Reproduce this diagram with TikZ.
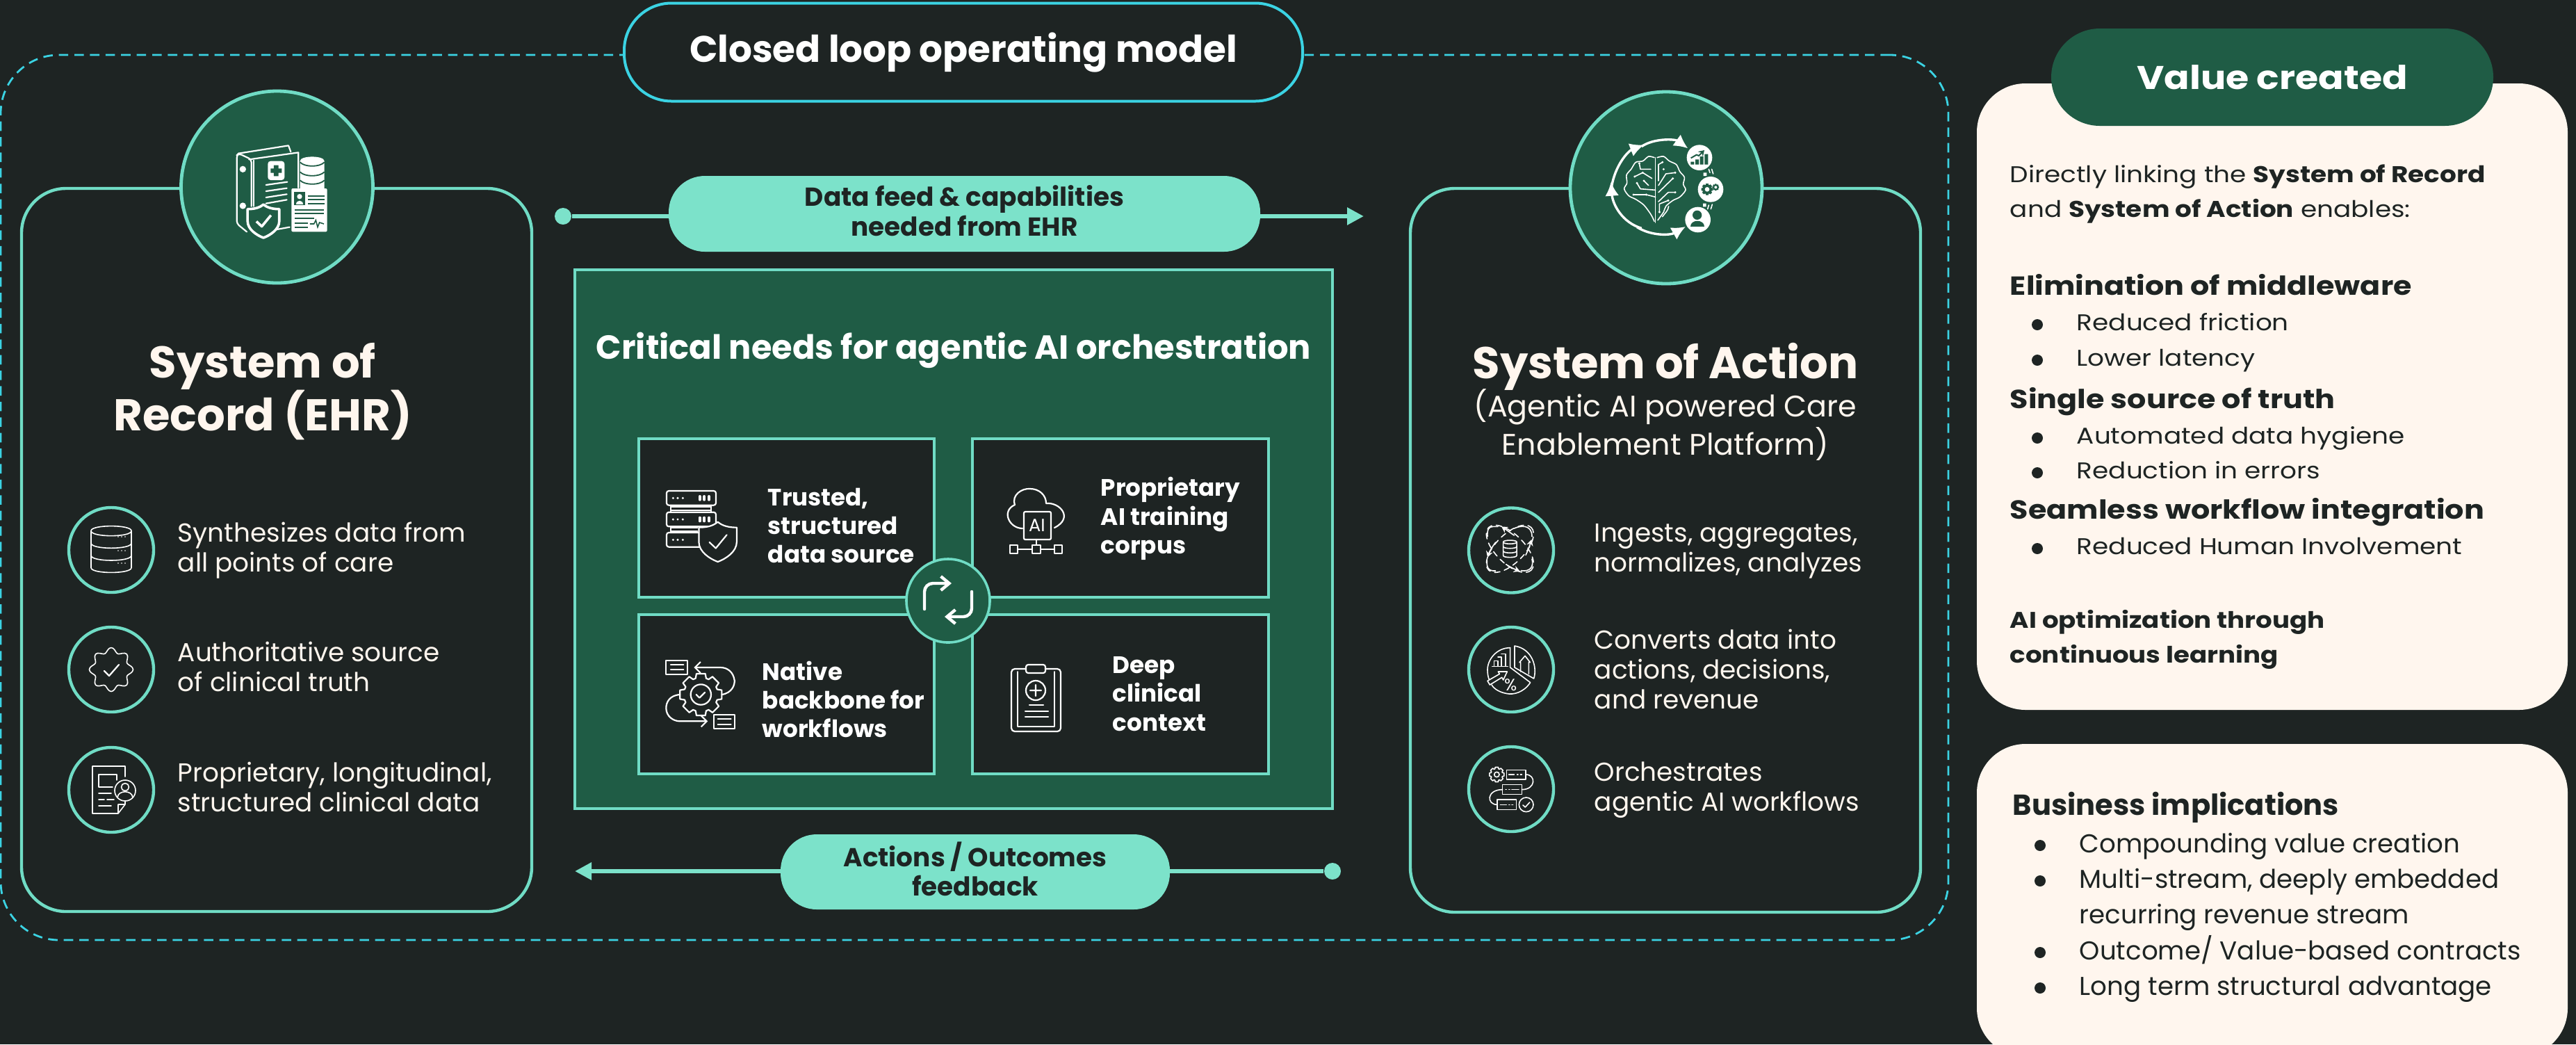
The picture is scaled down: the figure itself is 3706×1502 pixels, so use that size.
\documentclass[tikz,border=0pt]{standalone}
\usepackage{fontspec}
\setmainfont{Poppins}[BoldFont=Poppins Bold]
\newfontfamily\widefont{Poppins}[FakeStretch=1.14,BoldFont=Poppins Bold]
\usetikzlibrary{arrows.meta,positioning}
\definecolor{bgdark}{HTML}{1E2423}
\definecolor{deepgreen}{HTML}{1F5C45}
\definecolor{mint}{HTML}{70DCC5}
\definecolor{pillmint}{HTML}{7CE2CA}
\definecolor{loopcyan}{HTML}{3BD3E3}
\definecolor{cream}{HTML}{FFF6EE}
\tikzset{
	sized/.style 2 args={minimum width=#1*0.25pt, minimum height=#2*0.25pt},
	panel/.style={draw=mint, line width=1.1pt, fill=bgdark, rounded corners=16pt, inner sep=0pt},
	loopframe/.style={draw=loopcyan, line width=.7pt, rounded corners=21pt, inner sep=0pt, dash pattern=on 3.4pt off 2.2pt},
	bigdisc/.style={circle, draw=mint, line width=1.2pt, fill=deepgreen, minimum size=69pt, inner sep=0pt},
	smalldisc/.style={circle, draw=mint, line width=1.1pt, fill=bgdark, minimum size=30.5pt, inner sep=0pt},
	square/.style={draw=mint, line width=.8pt, inner sep=0pt},
	pill/.style={fill=pillmint, rounded corners=13pt, inner sep=0pt},
	pilltext/.style={inner sep=0pt, align=center, text=bgdark, font=\fontsize{9.35}{10.6}\selectfont\bfseries},
	card/.style={fill=cream, rounded corners=17.5pt, inner sep=0pt},
	heading/.style={text=cream, align=center, font=\fontsize{16}{19}\selectfont\bfseries},
	body/.style={text=cream, anchor=west, align=left, inner sep=0pt, font=\fontsize{9.35}{10.75}\selectfont},
	boxtext/.style={text=white, anchor=west, align=left, inner sep=0pt, font=\fontsize{8.55}{10.3}\selectfont\bfseries},
	cardtext/.style={text=bgdark, anchor=base west, inner sep=0pt, font=\widefont\fontsize{8.2}{9}\selectfont},
	cardhead/.style={text=bgdark, anchor=base west, inner sep=0pt, font=\widefont\fontsize{9.4}{10}\selectfont\bfseries},
	plaintext/.style={text=bgdark, anchor=base west, inner sep=0pt, font=\fontsize{9.3}{10}\selectfont},
	bullet/.style={circle, fill=bgdark, minimum size=4pt, inner sep=0pt},
	iconline/.style={draw=white, line width=.55pt, line cap=round, line join=round},
	thinline/.style={draw=white, line width=.4pt, line cap=round, line join=round},
	flowline/.style={draw=pillmint, line width=1.7pt},
	flowdot/.style={circle, fill=pillmint, minimum size=6pt, inner sep=0pt},
	shieldicon/.pic={
		\path[pic actions] (0,-1) .. controls (.25,-.78) and (.6,-.72) .. (.95,-.72) -- (.95,0) .. controls (.95,.5) and (.4,.85) .. (0,1) .. controls (-.4,.85) and (-.95,.5) .. (-.95,0) -- (-.95,-.72) .. controls (-.6,-.72) and (-.25,-.78) .. (0,-1) -- cycle;
		\path[pic actions, fill=none] (-.42,.02) -- (-.1,.32) -- (.45,-.35);
	},
	gearicon/.pic={
		\path[pic actions] (-12:1) \foreach \a in {0,45,...,315}{ -- (\a-12:1) -- (\a+12:1) -- (\a+18:.8) -- (\a+27:.8)} -- cycle;
	},
	dbicon/.pic={
		\path[pic actions] (-1,-.78) .. controls (-1,-1.05) and (1,-1.05) .. (1,-.78) -- (1,.78) .. controls (1,1.05) and (-1,1.05) .. (-1,.78) -- cycle;
		\path[pic actions, fill=none] (-1,-.78) .. controls (-1,-.5) and (1,-.5) .. (1,-.78);
		\path[pic actions, fill=none] (-1,-.26) .. controls (-1,.02) and (1,.02) .. (1,-.26);
		\path[pic actions, fill=none] (-1,.26) .. controls (-1,.54) and (1,.54) .. (1,.26);
	},
}
\begin{document}
\begin{tikzpicture}[x=0.25pt, y=-0.25pt]
	\path[use as bounding box, fill=bgdark] (0,0) rectangle (3706,1502);

	\node (closedframe) [loopframe, sized={2802}{1273}] at (1402,715.5) {};
	\node (closedtitle) [draw=loopcyan, line width=1pt, fill=bgdark, rounded corners=17pt, sized={976}{141}, text=white, font=\fontsize{13.3}{14}\selectfont\bfseries] at (1386,75) {Closed loop operating model};

	% left side
	\node (recordpanel) [panel, sized={734}{1040}] at (398,791) {};
	\node (recorddisc) [bigdisc] at (398.5,269) {};
	\node (recordtitle) [heading] at (378,563) {System of\\Record (EHR)};
	\node (recorddiscA) [smalldisc] at (160,791) {};
	\node (recorddiscB) [smalldisc] at (160,963) {};
	\node (recorddiscC) [smalldisc] at (160,1136) {};
	\node (recordtextA) [body] at (255,792) {Synthesizes data from\\all points of care};
	\node (recordtextB) [body] at (255,959) {Authoritative source\\of clinical truth};
	\node (recordtextC) [body] at (255,1132) {Proprietary, longitudinal,\\structured clinical data};

	% right side
	\node (actionpanel) [panel, sized={734}{1041}] at (2396,791.5) {};
	\node (actiondisc) [bigdisc] at (2397,270) {};
	\node (actiontitle) [heading] at (2396,527) {System of Action};
	\node (actionsub) [text=cream, align=center, font=\fontsize{10.7}{11.6}\selectfont] at (2396,611) {(Agentic AI powered Care\\Enablement Platform)};
	\node (actiondiscA) [smalldisc] at (2174,791.5) {};
	\node (actiondiscB) [smalldisc] at (2174,963) {};
	\node (actiondiscC) [smalldisc] at (2174,1135) {};
	\node (actiontextA) [body] at (2293,793) {Ingests, aggregates,\\normalizes, analyzes};
	\node (actiontextB) [body] at (2293,962) {Converts data into\\actions, decisions,\\and revenue};
	\node (actiontextC) [body] at (2293,1136) {Orchestrates\\agentic AI workflows};

	% connectors with their labels
	\node (feeddot) [flowdot] at (810,311) {};
	\coordinate (feedend) at (1962,311);
	\draw[flowline, -{Stealth[length=6pt,width=6pt,inset=0pt]}] (feeddot) -- (feedend);
	\node (backdot) [flowdot] at (1917,1253) {};
	\coordinate (backend) at (827,1253);
	\draw[flowline, -{Stealth[length=6pt,width=6pt,inset=0pt]}] (backdot) -- (backend);

	% centre block
	\node (needsbox) [square, fill=deepgreen, sized={1090}{775}] at (1372,775.5) {};
	\node (needstitle) [text=white, font=\fontsize{12}{12}\selectfont\bfseries] at (1372,504) {Critical needs for agentic AI orchestration};
	\node (needA) [square, fill=bgdark, sized={425}{228}] at (1131.5,745) {};
	\node (needB) [square, fill=bgdark, sized={426}{228}] at (1612,745) {};
	\node (needC) [square, fill=bgdark, sized={425}{229}] at (1131.5,998.5) {};
	\node (needD) [square, fill=bgdark, sized={426}{229}] at (1612,998.5) {};
	\node (needtextA) [boxtext] at (1104,756) {Trusted,\\structured\\data source};
	\node (needtextB) [boxtext] at (1583,746) {Proprietary\\AI training\\corpus};
	\node (needtextC) [boxtext] at (1096,1006) {Native\\backbone for\\workflows};
	\node (needtextD) [boxtext] at (1600,998) {Deep\\clinical\\context};
	\node (loopdisc) [circle, draw=mint, line width=.9pt, fill=deepgreen, minimum size=30pt, inner sep=0pt] at (1364,864) {};
	\node (feedpill) [pill, sized={851}{109}] at (1387.5,307.5) {};
	\node (feedlabel) [pilltext] at (1387.5,303) {Data feed \& capabilities\\needed from EHR};
	\node (backpill) [pill, sized={560}{108}] at (1403,1254) {};
	\node (backlabel) [pilltext] at (1403,1250) {Actions / Outcomes\\feedback};

	% cards
	\node (valuecard) [card, sized={850}{901}] at (3269,570.5) {};
	\node (valuepill) [fill=deepgreen, rounded corners=17.5pt, sized={636}{140}, text=white, font=\widefont\fontsize{11.8}{14}\selectfont\bfseries] at (3269,111) {Value created};
	\node (linkA) [cardtext] at (2891,262) {Directly linking the \textbf{System of Record}};
	\node (linkB) [cardtext] at (2891,312) {and \textbf{System of Action} enables:};
	\foreach \y/\t in {424/Elimination of middleware,587/Single source of truth,746/Seamless workflow integration}
		\node (head\y) [cardhead] at (2891,\y) {\t};
	\foreach \y/\t in {475/Reduced friction,526/Lower latency,638/Automated data hygiene,688/Reduction in errors,797/Reduced Human Involvement}{
		\node (dot\y) [bullet] at (2931,\y-8) {};
		\node (item\y) [cardtext] at (2987,\y) {\t};
	}
	\node (learnA) [cardtext, font=\widefont\fontsize{8.15}{9}\selectfont\bfseries] at (2891,903) {AI optimization through};
	\node (learnB) [cardtext, font=\widefont\fontsize{8.15}{9}\selectfont\bfseries] at (2891,953) {continuous learning};

	\node (businesscard) [card, sized={850}{450}] at (3269,1295) {};
	\node (businesshead) [plaintext, font=\fontsize{10.4}{11}\selectfont\bfseries] at (2895,1172) {Business implications};
	\foreach \y/\t in {1226/Compounding value creation,1277/{Multi-stream, deeply embedded},1380/{Outcome/ Value-based contracts},1431/Long term structural advantage}{
		\node (mark\y) [bullet] at (2935,\y-10) {};
		\node (line\y) [plaintext] at (2991,\y) {\t};
	}
	\node (line1328) [plaintext] at (2991,1328) {recurring revenue stream};

	% loop arrows on the centre disc
	\draw[draw=white, line width=1.1pt, line cap=round, -{Straight Barb[length=3pt,width=5pt]}, rounded corners=3pt] (1330,876) -- (1330,839) -- (1369,839);
	\draw[draw=white, line width=1.1pt, line cap=round, -{Straight Barb[length=3pt,width=5pt]}, rounded corners=3pt] (1398,851) -- (1398,887) -- (1359,887);

	% record icon
	\begin{scope}[shift={(310,190)}, scale=.3333]
		\fill[white] (365,125) .. controls (365,100) and (470,100) .. (470,125) -- (470,245) -- (365,245) -- cycle;
		\draw[deepgreen, line width=.45pt] (365,130) .. controls (385,152) and (450,152) .. (470,130);
		\draw[deepgreen, line width=.45pt] (365,172) .. controls (385,194) and (450,194) .. (470,172);
		\draw[deepgreen, line width=.45pt] (365,208) .. controls (385,230) and (450,230) .. (470,208);
		\draw[iconline] (100,92) -- (315,58) -- (325,85);
		\draw[iconline] (145,118) -- (358,88) -- (358,240);
		\draw[iconline, rounded corners=1pt] (155,320) -- (155,118) -- (100,92) -- (92,100) -- (92,395) -- (135,430);
		\draw[iconline] (164,122) -- (164,320);
		\draw[iconline] (265,420) -- (320,410);
		\fill[white] (118,160) circle (14) (118,318) circle (14);
		\fill[white, rounded corners=1pt] (226,125) rectangle (298,207);
		\fill[deepgreen] (252,143) rectangle (272,190) (238,157) rectangle (286,176);
		\draw[iconline] (218,228) -- (310,215) (218,255) -- (308,242) (218,282) -- (308,268) (218,308) -- (308,292);
		\fill[white, rounded corners=.5pt] (328,243) rectangle (482,430);
		\fill[deepgreen] (338,258) rectangle (388,315);
		\fill[white] (363,278) circle (11);
		\fill[white] (347,311) .. controls (347,290) and (379,290) .. (379,311) -- cycle;
		\draw[deepgreen, line width=.5pt] (400,275) -- (470,275) (400,292) -- (470,292) (400,308) -- (470,308) (342,335) -- (468,335) (342,352) -- (468,352) (342,372) -- (425,372) (342,392) -- (398,392) (342,410) -- (398,410);
		\draw[deepgreen, line width=.4pt] (408,396) -- (425,396) -- (433,380) -- (441,410) -- (449,390) -- (468,396);
		\pic[draw=white, fill=deepgreen, line width=.9pt, line join=round] at (207,384) [scale=24] {shieldicon};
	\end{scope}

	% brain icon
	\begin{scope}[shift={(2300,180)}, scale=.3333]
		\draw[draw=white, line width=.85pt, -{Latex[length=5pt,width=5pt]}] (185,92) .. controls (240,55) and (330,60) .. (385,100);
		\draw[draw=white, line width=.85pt, -{Latex[length=5pt,width=5pt]}] (55,270) .. controls (70,170) and (130,110) .. (195,85);
		\draw[draw=white, line width=.85pt, -{Latex[length=5pt,width=5pt]}] (185,445) .. controls (100,420) and (60,340) .. (53,245);
		\draw[draw=white, line width=.85pt, -{Latex[length=5pt,width=5pt]}] (165,440) .. controls (230,480) and (310,475) .. (375,438);
		\draw[thinline] plot[smooth] coordinates {(240,140) (215,135) (190,155) (160,160) (140,190) (120,215) (122,250) (110,275) (130,305) (160,320) (195,345) (225,385) (240,415)};
		\draw[thinline] plot[smooth] coordinates {(252,140) (280,135) (305,155) (335,170) (350,200) (370,225) (365,255) (375,280) (350,310) (320,325) (290,350) (280,375) (255,410)};
		\draw[thinline] (245,140) -- (245,420);
		\draw[thinline] (245,280) -- (180,275) -- (165,250) (245,310) -- (205,300) -- (150,300) (230,230) -- (190,205) -- (155,222) (225,190) -- (180,190) -- (175,165) (215,260) -- (195,240);
		\draw[thinline] (258,240) -- (258,170) -- (275,160) (258,290) -- (320,230) (258,330) -- (300,290) -- (330,290) (262,375) -- (262,340) -- (300,325) (258,260) -- (290,210) -- (330,205) (275,395) .. controls (285,380) and (300,370) .. (302,350);
		\foreach \p/\q in {165/250,150/300,155/222,175/165,195/240,205/300,190/205,275/160,320/230,330/290,300/325,330/205,262/375,280/190}
			\fill[white] (\p,\q) circle (5);
		\fill[white] (435,140) circle (55) (483,277) circle (55) (428,408) circle (55);
		\fill[deepgreen] (397,158) rectangle (412,170) (417,148) rectangle (432,170) (437,135) rectangle (452,170) (457,125) rectangle (472,170);
		\draw[deepgreen, line width=.5pt, -{Stealth[length=2pt,width=2.5pt]}] (398,142) -- (422,128) -- (432,132) -- (456,108);
		\pic[fill=deepgreen] at (468,277) [scale=8.5] {gearicon};
		\pic[fill=deepgreen] at (505,268) [scale=5] {gearicon};
		\fill[white] (468,277) circle (10) (505,268) circle (6);
		\fill[deepgreen] (425,388) circle (20);
		\fill[deepgreen] (395,438) .. controls (395,405) and (455,405) .. (455,438) -- cycle;
		\fill[white] (452,205) rectangle (466,219) (450,338) rectangle (464,352);
		\draw[thinline] (475,190) -- (480,205) (488,190) -- (494,210) (475,345) -- (470,362) (490,342) -- (484,362);
	\end{scope}

	% left list icons
	\pic[thinline] at (160,790) [xscale=29,yscale=34] {dbicon};
	\foreach \y in {772,792,810}
		\foreach \x in {170,175,180}
			\fill[white] (\x,\y) circle (.9);
	\draw[thinline] plot[smooth cycle, variable=\t, domain=0:355, samples=72] ({160+(28+3.5*cos(8*\t))*cos(\t)},{963+(28+3.5*cos(8*\t))*sin(\t)});
	\draw[iconline] (150,965) -- (157,972) -- (171,956);
	\draw[thinline] (180,1117) -- (180,1102) -- (133,1102) -- (133,1170) -- (170,1170) -- (180,1157) -- (180,1150) (170,1170) -- (170,1157) -- (180,1157);
	\draw[thinline] (168,1122) -- (168,1114) -- (142,1114) -- (142,1132) -- (162,1132);
	\draw[thinline] (142,1141) -- (160,1141) (142,1150) -- (150,1150) (154,1150) -- (164,1150) (142,1159) -- (160,1159);
	\draw[thinline, fill=bgdark] (180,1137) circle (15);
	\draw[thinline] (180,1132) circle (5.5);
	\draw[thinline] (169,1147) .. controls (170,1136) and (190,1136) .. (191,1147);

	% right list icons
	\begin{scope}[shift={(2110,730)}, scale=.3333]
		\draw[thinline] (135,82) -- (115,82) .. controls (95,82) and (88,95) .. (90,125);
		\draw[thinline] (205,90) .. controls (230,78) and (282,70) .. (282,125);
		\draw[thinline] (88,228) .. controls (85,260) and (95,275) .. (125,273);
		\draw[thinline] (282,222) .. controls (290,255) and (275,278) .. (235,272);
		\draw[thinline, rotate around={45:(187,178)}, dash pattern=on 2pt off 1.6pt] (187,178) ellipse [x radius=130, y radius=62];
		\draw[thinline, rotate around={-45:(187,178)}, dash pattern=on 2pt off 1.6pt] (187,178) ellipse [x radius=130, y radius=62];
		\draw[thinline, -{Stealth[length=2.2pt,width=2.4pt]}] (125,150) .. controls (110,170) and (98,190) .. (90,215);
		\draw[thinline, -{Stealth[length=2.2pt,width=2.4pt]}] (255,205) .. controls (265,185) and (272,165) .. (280,138);
		\draw[thinline, -{Stealth[length=2.2pt,width=2.4pt]}] (205,120) .. controls (190,110) and (170,95) .. (150,82);
		\draw[thinline, -{Stealth[length=2.2pt,width=2.4pt]}] (170,245) .. controls (190,258) and (205,265) .. (230,275);
		\pic[thinline, fill=bgdark] at (187,178) [xscale=9.7,yscale=12.5] {dbicon};

		\draw[thinline] (188,605) -- (188,690) -- (275,755) .. controls (245,800) and (200,808) .. (175,803) .. controls (145,798) and (120,785) .. (108,765);
		\draw[thinline] (188,605) .. controls (130,605) and (90,655) .. (90,700) .. controls (90,715) and (92,730) .. (97,742);
		\draw[thinline] (207,597) -- (207,690) -- (290,738) .. controls (305,690) and (285,610) .. (207,597);
		\draw[thinline] (110,685) -- (178,685) (118,685) -- (118,662) -- (135,662) -- (135,685) (135,645) -- (150,645) -- (150,685) (150,632) -- (168,632) -- (168,685);
		\draw[thinline] (90,748) -- (142,718) -- (136,708) -- (175,708) -- (158,744) -- (152,733) -- (100,765) -- cycle;
		\draw[thinline] (233,708) -- (233,668) -- (228,668) -- (252,640) -- (274,668) -- (268,668) -- (268,718);
		\node (pctsign) [text=white, inner sep=0pt, font=\fontsize{6}{6}\selectfont] at (190,766) {\%};

		\pic[thinline] at (130,1152) [scale=10.7] {gearicon};
		\draw[thinline] (130,1152) circle (11);
		\draw[thinline] (172,1132) rectangle (255,1173) (155,1195) rectangle (238,1238) (132,1260) rectangle (215,1303);
		\draw[thinline] (182,1152) -- (205,1152) (218,1152) -- (222,1152) (232,1152) -- (238,1152) (168,1217) -- (172,1217) (182,1217) -- (186,1217) (195,1217) -- (225,1217) (145,1282) -- (172,1282) (182,1282) -- (186,1282) (195,1282) -- (200,1282);
		\draw[thinline] (255,1152) .. controls (300,1152) and (300,1217) .. (238,1217);
		\draw[thinline] (155,1217) .. controls (85,1217) and (85,1282) .. (132,1282);
		\draw[thinline] (257,1282) circle (31);
		\draw[thinline] (243,1284) -- (253,1293) -- (272,1272);
	\end{scope}

	% need icons
	\begin{scope}[shift={(940,680)}, scale=.3333]
		\foreach \y in {78,170,258}{
			\draw[iconline, rounded corners=.8pt] (57,\y) rectangle (270,\y+62);
			\foreach \x in {85,105,127}
				\fill[white] (\x,\y+31) circle (5);
			\foreach \x in {200,220,240}
				\draw[iconline, line width=1pt] (\x,\y+24) -- (\x,\y+38);
		}
		\draw[iconline] (75,140) -- (75,170) (250,140) -- (250,170) (75,232) -- (75,258) (75,147) -- (250,147) (75,163) -- (250,163) (75,238) -- (190,238) (75,252) -- (190,252);
		\pic[draw=white, fill=bgdark, line width=.55pt, line join=round, line cap=round] at (278,298) [scale=28.7] {shieldicon};
	\end{scope}
	\draw[iconline] (1471,760) .. controls (1452,760) and (1440,735) .. (1460,726) .. controls (1455,712) and (1470,702) .. (1482,703) .. controls (1495,703) and (1505,712) .. (1505,724) .. controls (1525,722) and (1545,745) .. (1517,759);
	\draw[iconline, rounded corners=.5pt] (1473,736) rectangle (1512,776);
	\node (aisign) [text=white, inner sep=0pt, font=\fontsize{6.4}{7}\selectfont] at (1492,756) {AI};
	\draw[iconline] (1491,776) -- (1491,784) (1464,790) -- (1485,790) (1497,790) -- (1517,790);
	\draw[iconline] (1453,784) rectangle (1464,796) (1485,784) rectangle (1497,796) (1517,784) rectangle (1528,796);
	\begin{scope}[shift={(940,930)}, scale=.3333]
		\draw[iconline] (55,60) rectangle (148,120) (75,78) -- (130,78) (75,100) -- (130,100);
		\draw[iconline] (260,293) rectangle (352,355) (278,313) -- (335,313) (278,335) -- (335,335);
		\pic[iconline] at (205,207) [scale=30.7] {gearicon};
		\draw[iconline] (205,207) circle (44);
		\draw[iconline] (185,207) -- (199,221) -- (222,198);
		\draw[iconline, -{Straight Barb[length=2pt,width=4pt]}] (295,207) .. controls (340,200) and (352,165) .. (350,145) .. controls (345,110) and (320,90) .. (290,90) -- (175,90);
		\draw[iconline, -{Straight Barb[length=2pt,width=4pt]}] (115,207) .. controls (70,210) and (55,240) .. (55,265) .. controls (55,300) and (85,322) .. (115,322) -- (235,322);
	\end{scope}
	\draw[iconline, rounded corners=1.2pt] (1476,962) -- (1455,962) -- (1455,1052) -- (1526,1052) -- (1526,962) -- (1504,962);
	\draw[thinline] (1464,966) -- (1464,1045) -- (1517,1045) -- (1517,966);
	\draw[iconline, rounded corners=.8pt] (1476,956) rectangle (1504,968);
	\draw[iconline] (1490,993) circle (14) (1490,985) -- (1490,1001) (1482,993) -- (1498,993);
	\draw[iconline] (1481,1014) -- (1501,1014) (1475,1023) -- (1508,1023) (1475,1031) -- (1508,1031);
\end{tikzpicture}
\end{document}
